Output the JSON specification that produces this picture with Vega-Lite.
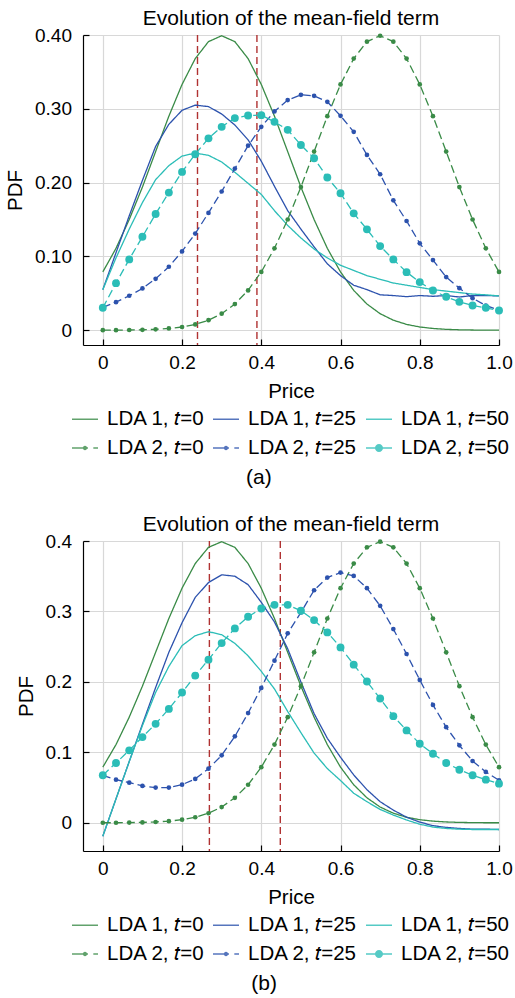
{
  "$schema": "https://vega.github.io/schema/vega-lite/v6.json",
  "padding": {"left": 5, "top": 8, "right": 0, "bottom": 0},
  "datasets": {
    "a": [
      {"s":"1-0","x":0,"y":0.079},{"s":"1-0","x":0.0333,"y":0.111},{"s":"1-0","x":0.0667,"y":0.15},{"s":"1-0","x":0.1,"y":0.194},{"s":"1-0","x":0.1333,"y":0.242},{"s":"1-0","x":0.1667,"y":0.29},{"s":"1-0","x":0.2,"y":0.333},{"s":"1-0","x":0.2333,"y":0.368},{"s":"1-0","x":0.2667,"y":0.391},{"s":"1-0","x":0.3,"y":0.399},{"s":"1-0","x":0.3333,"y":0.391},{"s":"1-0","x":0.3667,"y":0.368},{"s":"1-0","x":0.4,"y":0.333},{"s":"1-0","x":0.4333,"y":0.29},{"s":"1-0","x":0.4667,"y":0.242},{"s":"1-0","x":0.5,"y":0.194},{"s":"1-0","x":0.5333,"y":0.15},{"s":"1-0","x":0.5667,"y":0.111},{"s":"1-0","x":0.6,"y":0.079},{"s":"1-0","x":0.6333,"y":0.054},{"s":"1-0","x":0.6667,"y":0.0355},{"s":"1-0","x":0.7,"y":0.0224},{"s":"1-0","x":0.7333,"y":0.0136},{"s":"1-0","x":0.7667,"y":0.0079},{"s":"1-0","x":0.8,"y":0.0044},{"s":"1-0","x":0.8333,"y":0.0024},{"s":"1-0","x":0.8667,"y":0.0012},{"s":"1-0","x":0.9,"y":0.0006},{"s":"1-0","x":0.9333,"y":0.0003},{"s":"1-0","x":0.9667,"y":0.0001},{"s":"1-0","x":1,"y":0.0001},
      {"s":"1-25","x":0,"y":0.055},{"s":"1-25","x":0.0333,"y":0.105},{"s":"1-25","x":0.0667,"y":0.155},{"s":"1-25","x":0.1,"y":0.203},{"s":"1-25","x":0.1333,"y":0.249},{"s":"1-25","x":0.1667,"y":0.279},{"s":"1-25","x":0.2,"y":0.298},{"s":"1-25","x":0.2333,"y":0.305},{"s":"1-25","x":0.2667,"y":0.303},{"s":"1-25","x":0.3,"y":0.293},{"s":"1-25","x":0.3333,"y":0.278},{"s":"1-25","x":0.3667,"y":0.258},{"s":"1-25","x":0.4,"y":0.229},{"s":"1-25","x":0.4333,"y":0.195},{"s":"1-25","x":0.4667,"y":0.162},{"s":"1-25","x":0.5,"y":0.137},{"s":"1-25","x":0.5333,"y":0.113},{"s":"1-25","x":0.5667,"y":0.09},{"s":"1-25","x":0.6,"y":0.074},{"s":"1-25","x":0.6333,"y":0.061},{"s":"1-25","x":0.6667,"y":0.055},{"s":"1-25","x":0.7,"y":0.048},{"s":"1-25","x":0.7333,"y":0.047},{"s":"1-25","x":0.7667,"y":0.0455},{"s":"1-25","x":0.8,"y":0.047},{"s":"1-25","x":0.8333,"y":0.046},{"s":"1-25","x":0.8667,"y":0.047},{"s":"1-25","x":0.9,"y":0.045},{"s":"1-25","x":0.9333,"y":0.047},{"s":"1-25","x":0.9667,"y":0.047},{"s":"1-25","x":1,"y":0.0465},
      {"s":"1-50","x":0,"y":0.055},{"s":"1-50","x":0.0333,"y":0.098},{"s":"1-50","x":0.0667,"y":0.137},{"s":"1-50","x":0.1,"y":0.173},{"s":"1-50","x":0.1333,"y":0.204},{"s":"1-50","x":0.1667,"y":0.223},{"s":"1-50","x":0.2,"y":0.236},{"s":"1-50","x":0.2333,"y":0.24},{"s":"1-50","x":0.2667,"y":0.237},{"s":"1-50","x":0.3,"y":0.228},{"s":"1-50","x":0.3333,"y":0.214},{"s":"1-50","x":0.3667,"y":0.199},{"s":"1-50","x":0.4,"y":0.184},{"s":"1-50","x":0.4333,"y":0.162},{"s":"1-50","x":0.4667,"y":0.142},{"s":"1-50","x":0.5,"y":0.125},{"s":"1-50","x":0.5333,"y":0.11},{"s":"1-50","x":0.5667,"y":0.098},{"s":"1-50","x":0.6,"y":0.088},{"s":"1-50","x":0.6333,"y":0.081},{"s":"1-50","x":0.6667,"y":0.074},{"s":"1-50","x":0.7,"y":0.069},{"s":"1-50","x":0.7333,"y":0.064},{"s":"1-50","x":0.7667,"y":0.061},{"s":"1-50","x":0.8,"y":0.058},{"s":"1-50","x":0.8333,"y":0.055},{"s":"1-50","x":0.8667,"y":0.053},{"s":"1-50","x":0.9,"y":0.051},{"s":"1-50","x":0.9333,"y":0.049},{"s":"1-50","x":0.9667,"y":0.048},{"s":"1-50","x":1,"y":0.0465},
      {"s":"2-0","x":0,"y":0.0001},{"s":"2-0","x":0.0333,"y":0.0001},{"s":"2-0","x":0.0667,"y":0.0003},{"s":"2-0","x":0.1,"y":0.0006},{"s":"2-0","x":0.1333,"y":0.0012},{"s":"2-0","x":0.1667,"y":0.0024},{"s":"2-0","x":0.2,"y":0.0044},{"s":"2-0","x":0.2333,"y":0.0079},{"s":"2-0","x":0.2667,"y":0.0136},{"s":"2-0","x":0.3,"y":0.0224},{"s":"2-0","x":0.3333,"y":0.0355},{"s":"2-0","x":0.3667,"y":0.054},{"s":"2-0","x":0.4,"y":0.079},{"s":"2-0","x":0.4333,"y":0.111},{"s":"2-0","x":0.4667,"y":0.15},{"s":"2-0","x":0.5,"y":0.194},{"s":"2-0","x":0.5333,"y":0.242},{"s":"2-0","x":0.5667,"y":0.29},{"s":"2-0","x":0.6,"y":0.333},{"s":"2-0","x":0.6333,"y":0.368},{"s":"2-0","x":0.6667,"y":0.391},{"s":"2-0","x":0.7,"y":0.399},{"s":"2-0","x":0.7333,"y":0.391},{"s":"2-0","x":0.7667,"y":0.368},{"s":"2-0","x":0.8,"y":0.333},{"s":"2-0","x":0.8333,"y":0.29},{"s":"2-0","x":0.8667,"y":0.242},{"s":"2-0","x":0.9,"y":0.194},{"s":"2-0","x":0.9333,"y":0.15},{"s":"2-0","x":0.9667,"y":0.111},{"s":"2-0","x":1,"y":0.079},
      {"s":"2-25","x":0,"y":0.031},{"s":"2-25","x":0.0333,"y":0.038},{"s":"2-25","x":0.0667,"y":0.0467},{"s":"2-25","x":0.1,"y":0.0566},{"s":"2-25","x":0.1333,"y":0.0697},{"s":"2-25","x":0.1667,"y":0.086},{"s":"2-25","x":0.2,"y":0.1068},{"s":"2-25","x":0.2333,"y":0.131},{"s":"2-25","x":0.2667,"y":0.159},{"s":"2-25","x":0.3,"y":0.188},{"s":"2-25","x":0.3333,"y":0.219},{"s":"2-25","x":0.3667,"y":0.25},{"s":"2-25","x":0.4,"y":0.2756},{"s":"2-25","x":0.4333,"y":0.2964},{"s":"2-25","x":0.4667,"y":0.3118},{"s":"2-25","x":0.5,"y":0.319},{"s":"2-25","x":0.5333,"y":0.3176},{"s":"2-25","x":0.5667,"y":0.3095},{"s":"2-25","x":0.6,"y":0.2905},{"s":"2-25","x":0.6333,"y":0.2688},{"s":"2-25","x":0.6667,"y":0.2375},{"s":"2-25","x":0.7,"y":0.2113},{"s":"2-25","x":0.7333,"y":0.176},{"s":"2-25","x":0.7667,"y":0.148},{"s":"2-25","x":0.8,"y":0.1177},{"s":"2-25","x":0.8333,"y":0.095},{"s":"2-25","x":0.8667,"y":0.072},{"s":"2-25","x":0.9,"y":0.057},{"s":"2-25","x":0.9333,"y":0.0434},{"s":"2-25","x":0.9667,"y":0.0335},{"s":"2-25","x":1,"y":0.027},
      {"s":"2-50","x":0,"y":0.0304},{"s":"2-50","x":0.0333,"y":0.0638},{"s":"2-50","x":0.0667,"y":0.096},{"s":"2-50","x":0.1,"y":0.1267},{"s":"2-50","x":0.1333,"y":0.1575},{"s":"2-50","x":0.1667,"y":0.1865},{"s":"2-50","x":0.2,"y":0.2145},{"s":"2-50","x":0.2333,"y":0.2385},{"s":"2-50","x":0.2667,"y":0.26},{"s":"2-50","x":0.3,"y":0.2756},{"s":"2-50","x":0.3333,"y":0.2874},{"s":"2-50","x":0.3667,"y":0.291},{"s":"2-50","x":0.4,"y":0.2914},{"s":"2-50","x":0.4333,"y":0.2823},{"s":"2-50","x":0.4667,"y":0.2715},{"s":"2-50","x":0.5,"y":0.251},{"s":"2-50","x":0.5333,"y":0.233},{"s":"2-50","x":0.5667,"y":0.2069},{"s":"2-50","x":0.6,"y":0.1856},{"s":"2-50","x":0.6333,"y":0.1584},{"s":"2-50","x":0.6667,"y":0.1367},{"s":"2-50","x":0.7,"y":0.114},{"s":"2-50","x":0.7333,"y":0.096},{"s":"2-50","x":0.7667,"y":0.0787},{"s":"2-50","x":0.8,"y":0.0652},{"s":"2-50","x":0.8333,"y":0.0539},{"s":"2-50","x":0.8667,"y":0.0453},{"s":"2-50","x":0.9,"y":0.0385},{"s":"2-50","x":0.9333,"y":0.0335},{"s":"2-50","x":0.9667,"y":0.0304},{"s":"2-50","x":1,"y":0.0267}
    ],
    "b": [
      {"s":"1-0","x":0,"y":0.079},{"s":"1-0","x":0.0333,"y":0.111},{"s":"1-0","x":0.0667,"y":0.15},{"s":"1-0","x":0.1,"y":0.194},{"s":"1-0","x":0.1333,"y":0.242},{"s":"1-0","x":0.1667,"y":0.29},{"s":"1-0","x":0.2,"y":0.333},{"s":"1-0","x":0.2333,"y":0.368},{"s":"1-0","x":0.2667,"y":0.391},{"s":"1-0","x":0.3,"y":0.399},{"s":"1-0","x":0.3333,"y":0.391},{"s":"1-0","x":0.3667,"y":0.368},{"s":"1-0","x":0.4,"y":0.333},{"s":"1-0","x":0.4333,"y":0.29},{"s":"1-0","x":0.4667,"y":0.242},{"s":"1-0","x":0.5,"y":0.194},{"s":"1-0","x":0.5333,"y":0.15},{"s":"1-0","x":0.5667,"y":0.111},{"s":"1-0","x":0.6,"y":0.079},{"s":"1-0","x":0.6333,"y":0.054},{"s":"1-0","x":0.6667,"y":0.0355},{"s":"1-0","x":0.7,"y":0.0224},{"s":"1-0","x":0.7333,"y":0.0136},{"s":"1-0","x":0.7667,"y":0.0079},{"s":"1-0","x":0.8,"y":0.0044},{"s":"1-0","x":0.8333,"y":0.0024},{"s":"1-0","x":0.8667,"y":0.0012},{"s":"1-0","x":0.9,"y":0.0006},{"s":"1-0","x":0.9333,"y":0.0003},{"s":"1-0","x":0.9667,"y":0.0001},{"s":"1-0","x":1,"y":0.0001},
      {"s":"1-25","x":0,"y":-0.019},{"s":"1-25","x":0.0333,"y":0.034},{"s":"1-25","x":0.0667,"y":0.087},{"s":"1-25","x":0.1,"y":0.14},{"s":"1-25","x":0.1333,"y":0.192},{"s":"1-25","x":0.1667,"y":0.242},{"s":"1-25","x":0.2,"y":0.284},{"s":"1-25","x":0.2333,"y":0.32},{"s":"1-25","x":0.2667,"y":0.341},{"s":"1-25","x":0.3,"y":0.352},{"s":"1-25","x":0.3333,"y":0.35},{"s":"1-25","x":0.3667,"y":0.338},{"s":"1-25","x":0.4,"y":0.313},{"s":"1-25","x":0.4333,"y":0.285},{"s":"1-25","x":0.4667,"y":0.247},{"s":"1-25","x":0.5,"y":0.2},{"s":"1-25","x":0.5333,"y":0.155},{"s":"1-25","x":0.5667,"y":0.12},{"s":"1-25","x":0.6,"y":0.093},{"s":"1-25","x":0.6333,"y":0.068},{"s":"1-25","x":0.6667,"y":0.047},{"s":"1-25","x":0.7,"y":0.03},{"s":"1-25","x":0.7333,"y":0.018},{"s":"1-25","x":0.7667,"y":0.008},{"s":"1-25","x":0.8,"y":0.001},{"s":"1-25","x":0.8333,"y":-0.004},{"s":"1-25","x":0.8667,"y":-0.0065},{"s":"1-25","x":0.9,"y":-0.008},{"s":"1-25","x":0.9333,"y":-0.009},{"s":"1-25","x":0.9667,"y":-0.009},{"s":"1-25","x":1,"y":-0.0095},
      {"s":"1-50","x":0,"y":-0.019},{"s":"1-50","x":0.0333,"y":0.034},{"s":"1-50","x":0.0667,"y":0.087},{"s":"1-50","x":0.1,"y":0.138},{"s":"1-50","x":0.1333,"y":0.185},{"s":"1-50","x":0.1667,"y":0.222},{"s":"1-50","x":0.2,"y":0.2515},{"s":"1-50","x":0.2333,"y":0.2656},{"s":"1-50","x":0.2667,"y":0.2713},{"s":"1-50","x":0.3,"y":0.267},{"s":"1-50","x":0.3333,"y":0.2547},{"s":"1-50","x":0.3667,"y":0.237},{"s":"1-50","x":0.4,"y":0.215},{"s":"1-50","x":0.4333,"y":0.19},{"s":"1-50","x":0.4667,"y":0.158},{"s":"1-50","x":0.5,"y":0.128},{"s":"1-50","x":0.5333,"y":0.099},{"s":"1-50","x":0.5667,"y":0.077},{"s":"1-50","x":0.6,"y":0.06},{"s":"1-50","x":0.6333,"y":0.042},{"s":"1-50","x":0.6667,"y":0.03},{"s":"1-50","x":0.7,"y":0.019},{"s":"1-50","x":0.7333,"y":0.011},{"s":"1-50","x":0.7667,"y":0.004},{"s":"1-50","x":0.8,"y":-0.002},{"s":"1-50","x":0.8333,"y":-0.006},{"s":"1-50","x":0.8667,"y":-0.008},{"s":"1-50","x":0.9,"y":-0.009},{"s":"1-50","x":0.9333,"y":-0.0095},{"s":"1-50","x":0.9667,"y":-0.0095},{"s":"1-50","x":1,"y":-0.0095},
      {"s":"2-0","x":0,"y":0.0001},{"s":"2-0","x":0.0333,"y":0.0001},{"s":"2-0","x":0.0667,"y":0.0003},{"s":"2-0","x":0.1,"y":0.0006},{"s":"2-0","x":0.1333,"y":0.0012},{"s":"2-0","x":0.1667,"y":0.0024},{"s":"2-0","x":0.2,"y":0.0044},{"s":"2-0","x":0.2333,"y":0.0079},{"s":"2-0","x":0.2667,"y":0.0136},{"s":"2-0","x":0.3,"y":0.0224},{"s":"2-0","x":0.3333,"y":0.0355},{"s":"2-0","x":0.3667,"y":0.054},{"s":"2-0","x":0.4,"y":0.079},{"s":"2-0","x":0.4333,"y":0.111},{"s":"2-0","x":0.4667,"y":0.15},{"s":"2-0","x":0.5,"y":0.194},{"s":"2-0","x":0.5333,"y":0.242},{"s":"2-0","x":0.5667,"y":0.29},{"s":"2-0","x":0.6,"y":0.333},{"s":"2-0","x":0.6333,"y":0.368},{"s":"2-0","x":0.6667,"y":0.391},{"s":"2-0","x":0.7,"y":0.399},{"s":"2-0","x":0.7333,"y":0.391},{"s":"2-0","x":0.7667,"y":0.368},{"s":"2-0","x":0.8,"y":0.333},{"s":"2-0","x":0.8333,"y":0.29},{"s":"2-0","x":0.8667,"y":0.242},{"s":"2-0","x":0.9,"y":0.194},{"s":"2-0","x":0.9333,"y":0.15},{"s":"2-0","x":0.9667,"y":0.111},{"s":"2-0","x":1,"y":0.079},
      {"s":"2-25","x":0,"y":0.0675},{"s":"2-25","x":0.0333,"y":0.0613},{"s":"2-25","x":0.0667,"y":0.057},{"s":"2-25","x":0.1,"y":0.0524},{"s":"2-25","x":0.1333,"y":0.05},{"s":"2-25","x":0.1667,"y":0.05},{"s":"2-25","x":0.2,"y":0.0542},{"s":"2-25","x":0.2333,"y":0.0623},{"s":"2-25","x":0.2667,"y":0.0769},{"s":"2-25","x":0.3,"y":0.0958},{"s":"2-25","x":0.3333,"y":0.1227},{"s":"2-25","x":0.3667,"y":0.1557},{"s":"2-25","x":0.4,"y":0.1915},{"s":"2-25","x":0.4333,"y":0.2302},{"s":"2-25","x":0.4667,"y":0.2689},{"s":"2-25","x":0.5,"y":0.2986},{"s":"2-25","x":0.5333,"y":0.3301},{"s":"2-25","x":0.5667,"y":0.3481},{"s":"2-25","x":0.6,"y":0.3552},{"s":"2-25","x":0.6333,"y":0.3505},{"s":"2-25","x":0.6667,"y":0.333},{"s":"2-25","x":0.7,"y":0.308},{"s":"2-25","x":0.7333,"y":0.275},{"s":"2-25","x":0.7667,"y":0.2396},{"s":"2-25","x":0.8,"y":0.2028},{"s":"2-25","x":0.8333,"y":0.1674},{"s":"2-25","x":0.8667,"y":0.1358},{"s":"2-25","x":0.9,"y":0.11},{"s":"2-25","x":0.9333,"y":0.0877},{"s":"2-25","x":0.9667,"y":0.0722},{"s":"2-25","x":1,"y":0.0604},
      {"s":"2-50","x":0,"y":0.0675},{"s":"2-50","x":0.0333,"y":0.0849},{"s":"2-50","x":0.0667,"y":0.1029},{"s":"2-50","x":0.1,"y":0.1217},{"s":"2-50","x":0.1333,"y":0.1405},{"s":"2-50","x":0.1667,"y":0.1617},{"s":"2-50","x":0.2,"y":0.1849},{"s":"2-50","x":0.2333,"y":0.209},{"s":"2-50","x":0.2667,"y":0.2316},{"s":"2-50","x":0.3,"y":0.2551},{"s":"2-50","x":0.3333,"y":0.2759},{"s":"2-50","x":0.3667,"y":0.2925},{"s":"2-50","x":0.4,"y":0.3042},{"s":"2-50","x":0.4333,"y":0.3094},{"s":"2-50","x":0.4667,"y":0.3094},{"s":"2-50","x":0.5,"y":0.301},{"s":"2-50","x":0.5333,"y":0.2877},{"s":"2-50","x":0.5667,"y":0.2703},{"s":"2-50","x":0.6,"y":0.249},{"s":"2-50","x":0.6333,"y":0.2245},{"s":"2-50","x":0.6667,"y":0.2005},{"s":"2-50","x":0.7,"y":0.1764},{"s":"2-50","x":0.7333,"y":0.1514},{"s":"2-50","x":0.7667,"y":0.1312},{"s":"2-50","x":0.8,"y":0.1122},{"s":"2-50","x":0.8333,"y":0.098},{"s":"2-50","x":0.8667,"y":0.0849},{"s":"2-50","x":0.9,"y":0.0754},{"s":"2-50","x":0.9333,"y":0.0675},{"s":"2-50","x":0.9667,"y":0.0613},{"s":"2-50","x":1,"y":0.0556}
    ],
    "va": [{"x": 0.239}, {"x": 0.389}],
    "vb": [{"x": 0.269}, {"x": 0.448}]
  },
  "spacing": 26,
  "resolve": {"scale": {"color": "independent", "shape": "independent", "size": "independent", "strokeDash": "independent", "y": "independent", "x": "independent"}},
  "vconcat": [
    {
      "title": {"text": "(a)", "orient": "bottom", "anchor": "middle", "offset": 8},
      "resolve": {"scale": {"color": "independent", "shape": "independent", "size": "independent", "strokeDash": "independent"}},
      "vconcat": [
        {
          "width": 416,
          "height": 310,
          "title": {"text": "Evolution of the mean-field term", "offset": -3},
          "layer": [
            {
              "data": {"name": "va"},
              "mark": {"type": "rule", "color": "#b03232", "strokeDash": [7, 4], "strokeWidth": 1.4},
              "encoding": {"x": {"field": "x", "type": "quantitative", "scale": {"domain": [-0.05, 1], "nice": false, "zero": false}}}
            },
            {
              "data": {"name": "a"},
              "mark": {"type": "line", "strokeWidth": 1.3},
              "encoding": {
                "x": {"field": "x", "type": "quantitative", "title": "Price", "scale": {"domain": [-0.05, 1], "nice": false, "zero": false},
                      "axis": {"values": [0, 0.2, 0.4, 0.6, 0.8, 1], "labelExpr": "datum.value == 0 ? '0' : format(datum.value, '.1f')", "labelFlush": false, "labelPadding": 14.5, "titlePadding": 9}},
                "y": {"field": "y", "type": "quantitative", "title": "PDF", "scale": {"domain": [-0.02, 0.4], "nice": false, "zero": false},
                      "axis": {"values": [0, 0.05, 0.1, 0.15, 0.2, 0.25, 0.3, 0.35, 0.4], "labelExpr": "datum.value == 0 ? '0' : format(datum.value, '.2f')", "titlePadding": 9}},
                "color": {"field": "s", "type": "nominal",
                          "scale": {"domain": ["1-0", "1-25", "1-50", "2-0", "2-25", "2-50"], "range": ["#3a8b47", "#2c52ad", "#2bbdb7", "#3a8b47", "#2c52ad", "#2bbdb7"]}},
                "strokeDash": {"field": "s", "type": "nominal", "legend": null,
                          "scale": {"domain": ["1-0", "1-25", "1-50", "2-0", "2-25", "2-50"], "range": [[1, 0], [1, 0], [1, 0], [8, 4], [8, 4], [8, 4]]}}
              }
            },
            {
              "data": {"name": "a"},
              "transform": [{"filter": "indexof(datum.s, '2-') == 0"}],
              "mark": {"type": "point", "filled": true, "opacity": 1},
              "encoding": {
                "x": {"field": "x", "type": "quantitative", "scale": {"domain": [-0.05, 1], "nice": false, "zero": false}},
                "y": {"field": "y", "type": "quantitative", "scale": {"domain": [-0.02, 0.4], "nice": false, "zero": false}},
                "color": {"field": "s", "type": "nominal",
                          "scale": {"domain": ["1-0", "1-25", "1-50", "2-0", "2-25", "2-50"], "range": ["#3a8b47", "#2c52ad", "#2bbdb7", "#3a8b47", "#2c52ad", "#2bbdb7"]}},
                "size": {"field": "s", "type": "nominal", "legend": null,
                         "scale": {"type": "ordinal", "domain": ["2-0", "2-25", "2-50"], "range": [22, 22, 62]}}
              }
            },
            {
              "data": {"name": "a"},
              "mark": {"type": "point", "filled": true, "opacity": 0},
              "encoding": {
                "x": {"field": "x", "type": "quantitative", "scale": {"domain": [-0.05, 1], "nice": false, "zero": false}},
                "y": {"field": "y", "type": "quantitative", "scale": {"domain": [-0.02, 0.4], "nice": false, "zero": false}},
                "color": {"field": "s", "type": "nominal",
                          "legend": {"title": null, "labelExpr": "'LDA ' + replace(datum.label, '-', ', 𝑡=')"},
                          "scale": {"domain": ["1-0", "1-25", "1-50", "2-0", "2-25", "2-50"], "range": ["#3a8b47", "#2c52ad", "#2bbdb7", "#3a8b47", "#2c52ad", "#2bbdb7"]}},
                "shape": {"field": "s", "type": "nominal",
                          "legend": {"title": null, "labelExpr": "'LDA ' + replace(datum.label, '-', ', 𝑡=')"},
                          "scale": {"domain": ["1-0", "1-25", "1-50", "2-0", "2-25", "2-50"], "range": [
                            "M-1,-0.058H1V0.058H-1Z", "M-1,-0.058H1V0.058H-1Z", "M-1,-0.058H1V0.058H-1Z",
                            "M-1,-0.058H0.23V0.058H-1Z M0.64,-0.058H1V0.058H0.64Z M-0.17,0A0.17,0.17,0,1,1,0.17,0A0.17,0.17,0,1,1,-0.17,0Z",
                            "M-1,-0.058H0.23V0.058H-1Z M0.64,-0.058H1V0.058H0.64Z M-0.17,0A0.17,0.17,0,1,1,0.17,0A0.17,0.17,0,1,1,-0.17,0Z",
                            "M-1,-0.058H1V0.058H-1Z M-0.31,0A0.31,0.31,0,1,1,0.31,0A0.31,0.31,0,1,1,-0.31,0Z"]}}
              }
            }
          ]
        }
      ]
    },
    {
      "title": {"text": "(b)", "orient": "bottom", "anchor": "middle", "offset": 8},
      "resolve": {"scale": {"color": "independent", "shape": "independent", "size": "independent", "strokeDash": "independent"}},
      "vconcat": [
        {
          "width": 416,
          "height": 310,
          "title": {"text": "Evolution of the mean-field term", "offset": -3},
          "layer": [
            {
              "data": {"name": "vb"},
              "mark": {"type": "rule", "color": "#b03232", "strokeDash": [7, 4], "strokeWidth": 1.4},
              "encoding": {"x": {"field": "x", "type": "quantitative", "scale": {"domain": [-0.05, 1], "nice": false, "zero": false}}}
            },
            {
              "data": {"name": "b"},
              "mark": {"type": "line", "strokeWidth": 1.3},
              "encoding": {
                "x": {"field": "x", "type": "quantitative", "title": "Price", "scale": {"domain": [-0.05, 1], "nice": false, "zero": false},
                      "axis": {"values": [0, 0.2, 0.4, 0.6, 0.8, 1], "labelExpr": "datum.value == 0 ? '0' : format(datum.value, '.1f')", "labelFlush": false, "labelPadding": 14.5, "titlePadding": 9}},
                "y": {"field": "y", "type": "quantitative", "title": "PDF", "scale": {"domain": [-0.04, 0.4], "nice": false, "zero": false},
                      "axis": {"values": [0, 0.1, 0.2, 0.3, 0.4], "labelExpr": "datum.value == 0 ? '0' : format(datum.value, '.1f')", "titlePadding": 9}},
                "color": {"field": "s", "type": "nominal",
                          "scale": {"domain": ["1-0", "1-25", "1-50", "2-0", "2-25", "2-50"], "range": ["#3a8b47", "#2c52ad", "#2bbdb7", "#3a8b47", "#2c52ad", "#2bbdb7"]}},
                "strokeDash": {"field": "s", "type": "nominal", "legend": null,
                          "scale": {"domain": ["1-0", "1-25", "1-50", "2-0", "2-25", "2-50"], "range": [[1, 0], [1, 0], [1, 0], [8, 4], [8, 4], [8, 4]]}}
              }
            },
            {
              "data": {"name": "b"},
              "transform": [{"filter": "indexof(datum.s, '2-') == 0"}],
              "mark": {"type": "point", "filled": true, "opacity": 1},
              "encoding": {
                "x": {"field": "x", "type": "quantitative", "scale": {"domain": [-0.05, 1], "nice": false, "zero": false}},
                "y": {"field": "y", "type": "quantitative", "scale": {"domain": [-0.04, 0.4], "nice": false, "zero": false}},
                "color": {"field": "s", "type": "nominal",
                          "scale": {"domain": ["1-0", "1-25", "1-50", "2-0", "2-25", "2-50"], "range": ["#3a8b47", "#2c52ad", "#2bbdb7", "#3a8b47", "#2c52ad", "#2bbdb7"]}},
                "size": {"field": "s", "type": "nominal", "legend": null,
                         "scale": {"type": "ordinal", "domain": ["2-0", "2-25", "2-50"], "range": [22, 22, 62]}}
              }
            },
            {
              "data": {"name": "b"},
              "mark": {"type": "point", "filled": true, "opacity": 0},
              "encoding": {
                "x": {"field": "x", "type": "quantitative", "scale": {"domain": [-0.05, 1], "nice": false, "zero": false}},
                "y": {"field": "y", "type": "quantitative", "scale": {"domain": [-0.04, 0.4], "nice": false, "zero": false}},
                "color": {"field": "s", "type": "nominal",
                          "legend": {"title": null, "labelExpr": "'LDA ' + replace(datum.label, '-', ', 𝑡=')"},
                          "scale": {"domain": ["1-0", "1-25", "1-50", "2-0", "2-25", "2-50"], "range": ["#3a8b47", "#2c52ad", "#2bbdb7", "#3a8b47", "#2c52ad", "#2bbdb7"]}},
                "shape": {"field": "s", "type": "nominal",
                          "legend": {"title": null, "labelExpr": "'LDA ' + replace(datum.label, '-', ', 𝑡=')"},
                          "scale": {"domain": ["1-0", "1-25", "1-50", "2-0", "2-25", "2-50"], "range": [
                            "M-1,-0.058H1V0.058H-1Z", "M-1,-0.058H1V0.058H-1Z", "M-1,-0.058H1V0.058H-1Z",
                            "M-1,-0.058H0.23V0.058H-1Z M0.64,-0.058H1V0.058H0.64Z M-0.17,0A0.17,0.17,0,1,1,0.17,0A0.17,0.17,0,1,1,-0.17,0Z",
                            "M-1,-0.058H0.23V0.058H-1Z M0.64,-0.058H1V0.058H0.64Z M-0.17,0A0.17,0.17,0,1,1,0.17,0A0.17,0.17,0,1,1,-0.17,0Z",
                            "M-1,-0.058H1V0.058H-1Z M-0.31,0A0.31,0.31,0,1,1,0.31,0A0.31,0.31,0,1,1,-0.31,0Z"]}}
              }
            }
          ]
        }
      ]
    }
  ],
  "config": {
    "font": "Liberation Sans",
    "view": {"stroke": null},
    "title": {"fontSize": 21, "fontWeight": "normal", "color": "#000"},
    "axis": {
      "grid": true, "gridColor": "#d8d8d8", "gridWidth": 1.2,
      "domainColor": "#000", "domainWidth": 1.2, "tickColor": "#000", "tickSize": -6, "tickWidth": 1.2,
      "labelFontSize": 19, "labelColor": "#000", "labelPadding": 17.5,
      "titleFontSize": 20.5, "titleFontWeight": "normal", "titleColor": "#000", "titlePadding": 4
    },
    "legend": {
      "orient": "bottom", "direction": "horizontal", "columns": 3,
      "labelFontSize": 20.5, "labelColor": "#000", "labelOffset": 9,
      "symbolSize": 676, "symbolOpacity": 0.8, "symbolStrokeWidth": 0,
      "columnPadding": 8, "rowPadding": 5, "offset": 4,
      "layout": {"bottom": {"anchor": "middle"}}
    }
  }
}
